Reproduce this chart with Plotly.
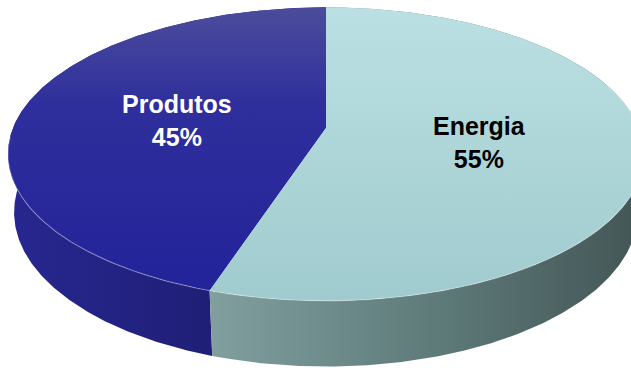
import numpy as np
import plotly.graph_objects as go

# Chart data
labels = ["Produtos", "Energia"]
values = [45, 55]
label_colors = ["white", "black"]

# Styling per slice (vertical scales run bottom -> top)
top_scales = [
    [[0.0, "#23239a"], [0.65, "#2e2e9c"], [1.0, "#4c4c9c"]],
    [[0.0, "#a0cbce"], [1.0, "#bbe0e3"]],
]
side_scales = [
    [[0.0, "#272790"], [1.0, "#1b1a68"]],
    [[0.0, "#809f9e"], [0.5, "#5f7c7b"], [1.0, "#435555"]],
]

W, H = 631, 373

# Perspective set-up of the 3D disc
CX, CY = 326.0, 128.0      # screen position of disc centre
DIST = 5.01                # camera distance (disc radius = 1)
FOCAL = 313.0 * DIST       # focal scale in pixels
ELEV = np.radians(27.0)    # viewing elevation
THICK = 0.21               # disc thickness


def project(theta, z=0.0, r=1.0):
    X = r * np.cos(theta)
    Y = r * np.sin(theta)
    v = Y * np.sin(ELEV) + z * np.cos(ELEV)
    w = Y * np.cos(ELEV) - z * np.sin(ELEV)
    px = CX + FOCAL * X / (DIST + w)
    py = CY - FOCAL * v / (DIST + w)
    return px, py


total = float(sum(values))
start = np.pi / 2
spans = []
for v in values:
    a0 = start
    a1 = start + 2 * np.pi * v / total
    spans.append((a0, a1))
    start = a1

fig = go.Figure()

# Side walls (outer bands), drawn first so top faces cover hidden parts
for (a0, a1), cs in zip(spans, side_scales):
    t = np.linspace(a0, a1, 400)
    tx, ty = project(t, 0.0)
    bx, by = project(t[::-1], -THICK)
    xs = np.concatenate([tx, bx, tx[:1]])
    ys = np.concatenate([ty, by, ty[:1]])
    fig.add_trace(go.Scatter(
        x=xs, y=ys, mode="lines", fill="toself",
        line=dict(width=0, color="rgba(0,0,0,0)"),
        fillgradient=dict(type="horizontal", colorscale=cs),
        hoverinfo="skip", showlegend=False,
    ))

# Top faces
cx0, cy0 = project(0.0, 0.0, 0.0)
for (a0, a1), cs in zip(spans, top_scales):
    t = np.linspace(a0, a1, 400)
    tx, ty = project(t, 0.0)
    xs = np.concatenate([[cx0], tx, [cx0]])
    ys = np.concatenate([[cy0], ty, [cy0]])
    fig.add_trace(go.Scatter(
        x=xs, y=ys, mode="lines", fill="toself",
        line=dict(width=0, color="rgba(0,0,0,0)"),
        fillgradient=dict(type="vertical", colorscale=cs),
        hoverinfo="skip", showlegend=False,
    ))

# Soft highlight along the front rim of the top face
t = np.linspace(np.pi * 1.02, np.pi * 2.1, 300)
rx, ry = project(t, 0.0)
fig.add_trace(go.Scatter(
    x=rx, y=ry, mode="lines",
    line=dict(width=1.2, color="rgba(255,255,255,0.30)"),
    hoverinfo="skip", showlegend=False,
))

# Slice labels
for (a0, a1), name, val, col in zip(spans, labels, values, label_colors):
    mid = (a0 + a1) / 2
    lx, ly = project(mid, 0.0, 0.49)
    pct = round(100 * val / total)
    fig.add_annotation(
        x=lx, y=ly, text=f"<b>{name}<br>{pct}%</b>",
        showarrow=False, xanchor="center", yanchor="middle", yshift=-3,
        font=dict(family="Liberation Sans, Arial", size=25, color=col),
    )

fig.update_xaxes(range=[0, W], visible=False, fixedrange=True)
fig.update_yaxes(range=[H, 0], visible=False, fixedrange=True)
fig.update_layout(
    width=W, height=H,
    margin=dict(l=0, r=0, t=0, b=0),
    paper_bgcolor="white", plot_bgcolor="white",
)

fig.write_html("out.html")
